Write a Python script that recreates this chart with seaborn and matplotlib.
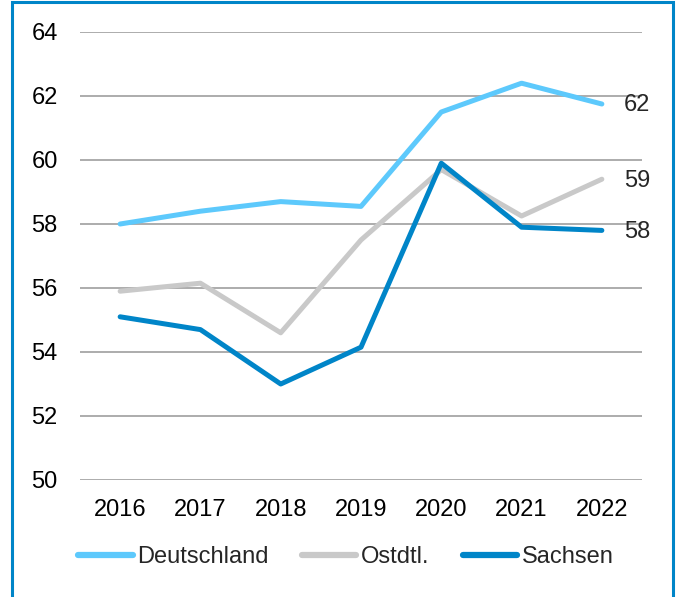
import matplotlib
matplotlib.use("Agg")
import matplotlib.pyplot as plt
import seaborn as sns
import pandas as pd
from matplotlib.patches import Rectangle

# Daten
jahre = [2016, 2017, 2018, 2019, 2020, 2021, 2022]
deutschland = [58.0, 58.4, 58.7, 58.55, 61.5, 62.4, 61.75]
ostdtl = [55.9, 56.15, 54.6, 57.5, 59.7, 58.25, 59.4]
sachsen = [55.1, 54.7, 53.0, 54.15, 59.9, 57.9, 57.8]

reihen = {"Deutschland": deutschland, "Ostdtl.": ostdtl, "Sachsen": sachsen}
farben = {"Deutschland": "#5DC9FC", "Ostdtl.": "#C9C9C9", "Sachsen": "#0085C8"}

df = pd.DataFrame(
    [(j, name, v) for name, werte in reihen.items() for j, v in zip(jahre, werte)],
    columns=["Jahr", "Region", "Wert"],
)

sns.set_style("white")
plt.rcParams["font.family"] = ["Liberation Sans", "DejaVu Sans"]

fig = plt.figure(figsize=(6.78, 5.97), dpi=100)
ax = fig.add_axes([80 / 678, 1 - 480 / 597, (642 - 80) / 678, (480 - 32) / 597])

sns.lineplot(data=df, x="Jahr", y="Wert", hue="Region", palette=farben,
             linewidth=3.6, ax=ax, legend=False, zorder=3)

ax.set_xlim(2015.5, 2022.5)
ax.set_ylim(50, 64)
ax.set_yticks(range(50, 65, 2))
ax.set_xticks(jahre)
ax.grid(axis="y", color="#A6A6A6", linewidth=1.3)
ax.grid(axis="x", visible=False)
for s in ax.spines.values():
    s.set_visible(False)
ax.tick_params(axis="both", length=0, labelsize=17, colors="black")
ax.tick_params(axis="y", pad=16)
ax.tick_params(axis="x", pad=14)
ax.set_xlabel("")
ax.set_ylabel("")

# Endwerte beschriften
for name, werte in reihen.items():
    ax.annotate(f"{round(werte[-1])}", xy=(jahre[-1], werte[-1]),
                xytext=(16, -1), textcoords="offset points",
                va="center", ha="left", fontsize=17, annotation_clip=False)

# Legende
handles = [plt.Line2D([], [], color=farben[n], linewidth=4.5, solid_capstyle="round")
           for n in reihen]
fig.legend(handles, list(reihen), loc="center",
           bbox_to_anchor=(346 / 678, 1 - 557 / 597),
           ncol=3, frameon=False, fontsize=17, handlelength=2.3,
           handletextpad=0.2, columnspacing=1.4)

# Rahmen
fig.patches.append(Rectangle((12 / 678, -0.02), (673 - 12) / 678, 1.02 - 2 / 597,
                             transform=fig.transFigure, fill=False,
                             edgecolor="#0085C8", linewidth=2.2))

fig.savefig("out.png", dpi=100)
